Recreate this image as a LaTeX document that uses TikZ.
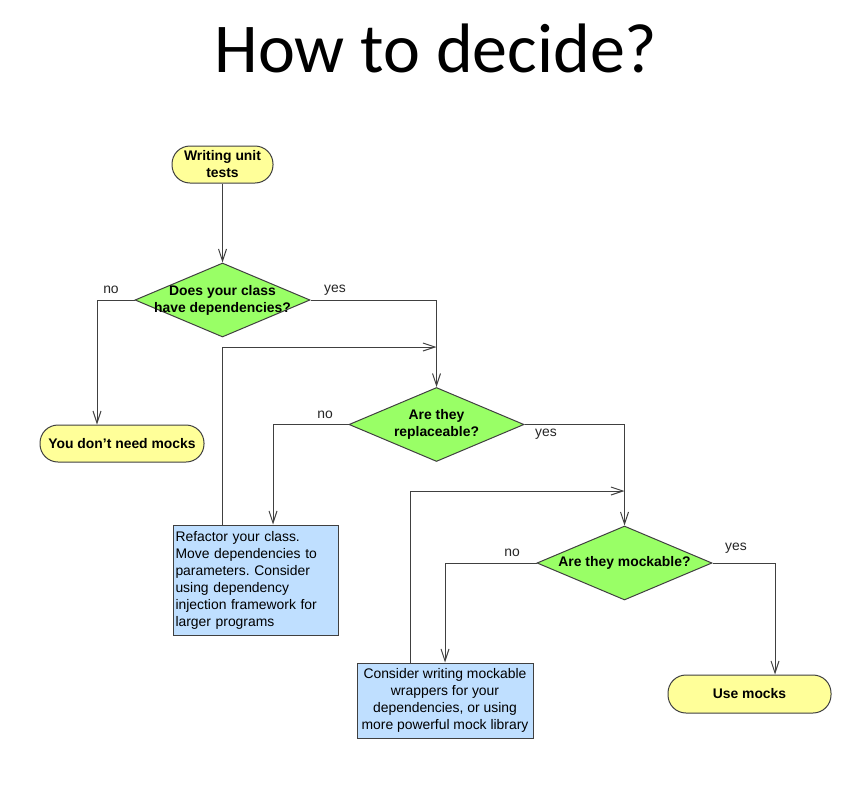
\documentclass[tikz,border=0pt]{standalone}
\usepackage{fontspec}
\setmainfont{Liberation Sans}
\newfontfamily\carlito{Carlito}
\usetikzlibrary{shapes.geometric,arrows.meta}
\frenchspacing
\definecolor{pillyellow}{HTML}{FFFF99}
\definecolor{diagreen}{HTML}{99FF66}
\definecolor{boxblue}{HTML}{BFDFFF}
\definecolor{edgegray}{HTML}{404040}
\tikzset{
  basefont/.style={font=\fontsize{13.9}{17}\selectfont},
  pill/.style={draw=edgegray, line width=1pt, fill=pillyellow, rounded corners=18pt,
    inner sep=0pt, align=center, font=\fontsize{13.9}{17}\selectfont\bfseries},
  dia/.style={diamond, draw=edgegray, line width=1pt, fill=diagreen, inner sep=0pt,
    minimum width=175pt, minimum height=74pt},
  dtext/.style={align=center, inner sep=0pt, font=\fontsize{13.9}{17}\selectfont\bfseries},
  infobox/.style={draw=edgegray, line width=1pt, fill=boxblue, inner sep=1.5pt, basefont},
  lbl/.style={basefont, inner sep=0pt, text=black!85},
  conn/.style={draw=edgegray, line width=1pt},
  arr/.style={conn, -{Straight Barb[length=12pt,width=8pt]}},
}
\begin{document}
\begin{tikzpicture}[x=1pt,y=-1pt]
\useasboundingbox (0,0) rectangle (868,790);
\fill[white] (0,0) rectangle (868,790);

\node[font=\fontsize{70}{80}\selectfont\carlito, anchor=base, inner sep=0pt] (title) at (436,72) {How to decide?};

\node[pill, minimum width=101pt, minimum height=37pt] (start) at (222.5,164.5) {Writing unit\\tests};
\node[dia, label={[dtext]center:{Does your class\\have dependencies?}}] (d1) at (222.5,300) {};
\node[pill, minimum width=164pt, minimum height=37pt] (nomock) at (122,443.5) {You don’t need mocks};
\node[dia, label={[dtext]center:{Are they\\replaceable?}}] (d2) at (436.5,424.5) {};
\node[infobox, minimum width=165pt, minimum height=110pt, align=left, text width=160pt] (refactor) at (255.5,580)
  {Refactor your class.\\Move dependencies to\\parameters. Consider\\using dependency\\injection framework for\\larger programs};
\node[dia, label={[dtext]center:{Are they mockable?}}] (d3) at (624.5,563) {};
\node[infobox, minimum width=176pt, minimum height=75pt, align=center] (consider) at (445,700.5)
  {Consider writing mockable\\wrappers for your\\dependencies, or using\\more powerful mock library};
\node[pill, minimum width=163pt, minimum height=38pt] (usemocks) at (749.5,694) {Use mocks};

\coordinate (j1) at (436.5,347);
\coordinate (j2) at (624.5,491);

\draw[arr] (start) -- (d1);
\draw[arr] (d1.west) -| ([xshift=-25pt]nomock.north);
\draw[arr] (d1.east) -| (d2.north);
\draw[arr] ([xshift=50pt]refactor.north west) |- (j1);
\draw[arr] (d2.west) -| ([xshift=17.5pt]refactor.north);
\draw[arr] (d2.east) -| (d3.north);
\draw[arr] ([xshift=54pt]consider.north west) |- (j2);
\draw[arr] (d3.west) -| (consider.north);
\draw[arr] (d3.east) -| ([xshift=25.5pt]usemocks.north);

\node[lbl] (no1) at (111,290) {no};
\node[lbl] (yes1) at (335,290.5) {yes};
\node[lbl] (no2) at (325,415) {no};
\node[lbl] (yes2) at (546,434) {yes};
\node[lbl] (no3) at (512,553) {no};
\node[lbl] (yes3) at (736,548) {yes};
\end{tikzpicture}
\end{document}
